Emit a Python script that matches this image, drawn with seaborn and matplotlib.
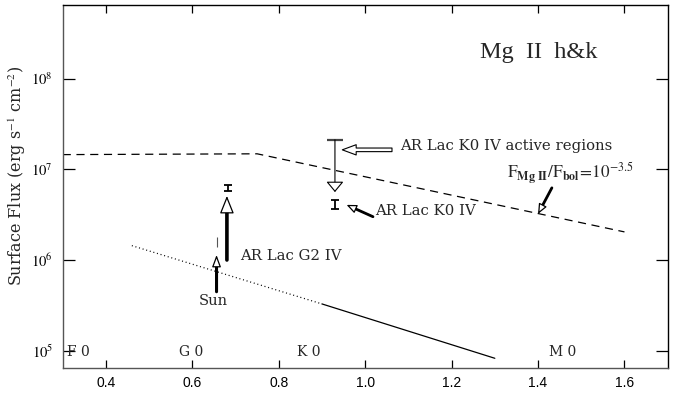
import matplotlib
matplotlib.use("Agg")
import matplotlib.pyplot as plt
import seaborn as sns
import pandas as pd
from matplotlib.ticker import NullLocator

# ---- data -------------------------------------------------------------
# saturation level F_MgII / F_bol = 10^-3.5 (B-V, surface flux)
sat_bv = [0.30, 0.75, 1.60]
sat_flux = [1.45e7, 1.48e7, 2.04e6]

# basal flux level: dotted (bluer) and solid (redder) parts
basal_dot_bv = [0.46, 0.90]
basal_dot_flux = [1.44e6, 3.28e5]
basal_sol_bv = [0.90, 1.30]
basal_sol_flux = [3.28e5, 8.26e4]

# Sun
sun_bv = 0.656
sun_arrow_flux = [4.47e5, 1.135e6]     # tail, tip
sun_range = [1.40e6, 1.81e6]           # low, high

# AR Lac G2 IV
g2_bv = 0.680
g2_arrow_flux = [1.0e6, 5.09e6]
g2_range = [5.78e6, 6.73e6]

# AR Lac K0 IV
k0_bv = 0.930
k0_range = [3.63e6, 4.57e6]
k0_active_flux = [2.11e7, 5.6e6]       # top of bar, limit arrow tip

# spectral types along the colour axis
sptype_names = ["F 0", "G 0", "K 0", "M 0"]
sptype_bv = [0.309, 0.568, 0.842, 1.426]

xtick_vals = [0.4, 0.6, 0.8, 1.0, 1.2, 1.4, 1.6]
ytick_exp = [5, 6, 7, 8]

# ---- style ------------------------------------------------------------
sns.set_style("ticks")
plt.rcParams["font.family"] = ["DejaVu Serif"]
plt.rcParams["mathtext.fontset"] = "stix"

fig = plt.figure(figsize=(6.8, 3.94), dpi=100)
ax = fig.add_axes([0.0922, 0.066, 0.8897, 0.9213])

sat_df = pd.DataFrame({"bv": sat_bv, "flux": sat_flux})
dot_df = pd.DataFrame({"bv": basal_dot_bv, "flux": basal_dot_flux})
sol_df = pd.DataFrame({"bv": basal_sol_bv, "flux": basal_sol_flux})

sns.lineplot(data=sat_df, x="bv", y="flux", ax=ax, color="black", lw=0.9,
             linestyle=(0, (6.5, 4.5)), sort=False)
sns.lineplot(data=dot_df, x="bv", y="flux", ax=ax, color="black", lw=0.9,
             linestyle=(0, (0.8, 2.2)), sort=False)
sns.lineplot(data=sol_df, x="bv", y="flux", ax=ax, color="black", lw=0.9,
             sort=False)

ax.set_yscale("log")
ax.set_xlim(0.3, 1.7)
ax.set_ylim(10 ** 4.81, 10 ** 8.81)


def open_head_arrow(tail, tip, shaft_lw, head_len, head_hw, head_lw=0.9):
    """Solid black shaft topped by a white, outlined arrow head."""
    ax.annotate("", xy=tip, xytext=tail,
                arrowprops=dict(arrowstyle="-", lw=shaft_lw, color="black",
                                shrinkA=0, shrinkB=head_len * 0.85))
    ax.annotate("", xy=tip, xytext=tail,
                arrowprops=dict(arrowstyle=f"-|>,head_length={head_len},head_width={head_hw}",
                                lw=head_lw, ec="black", fc="white",
                                shrinkA=0, shrinkB=0, mutation_scale=1))


# Sun and AR Lac G2 IV arrows
open_head_arrow((sun_bv, sun_arrow_flux[0]), (sun_bv, sun_arrow_flux[1]),
                shaft_lw=2.2, head_len=7.2, head_hw=2.7)
open_head_arrow((g2_bv, g2_arrow_flux[0]), (g2_bv, g2_arrow_flux[1]),
                shaft_lw=2.6, head_len=11.0, head_hw=4.4)

# observed ranges
sun_mid = sum(sun_range) / 2
ax.errorbar([sun_bv], [sun_mid],
            yerr=[[sun_mid - sun_range[0]], [sun_range[1] - sun_mid]],
            fmt="none", ecolor="#555555", elinewidth=0.8, capsize=0)
for bv, rng in [(g2_bv + 0.002, g2_range), (k0_bv, k0_range)]:
    mid = (rng[0] * rng[1]) ** 0.5
    ax.errorbar([bv], [mid], yerr=[[mid - rng[0]], [rng[1] - mid]],
                fmt="none", ecolor="black", elinewidth=1.3, capsize=2.6, capthick=1.3)

# AR Lac K0 IV active-region upper limit
ax.annotate("", xy=(k0_bv, k0_active_flux[1]), xytext=(k0_bv, k0_active_flux[0]),
            arrowprops=dict(arrowstyle="-|>,head_length=6.5,head_width=5.4",
                            lw=0.8, ec="black", fc="white",
                            shrinkA=0, shrinkB=0, mutation_scale=1))
ax.plot([k0_bv], [k0_active_flux[0]], marker="_", ms=11.5, mew=1.6,
        color="#444444")

# hollow pointer to the active-region bar
ax.annotate("", xy=(0.947, 1.637e7), xytext=(1.062, 1.637e7),
            arrowprops=dict(arrowstyle="simple,head_length=10,head_width=7.4,tail_width=2.6",
                            lw=0.8, ec="black", fc="white",
                            shrinkA=0, shrinkB=0, mutation_scale=1))
ax.text(1.081, 1.81e7, "AR Lac K0 IV active regions", fontsize=10.7,
        ha="left", va="center")

# pointer to the K0 IV measurement
open_head_arrow((1.018, 3.0e6), (0.957, 4.05e6),
                shaft_lw=2.0, head_len=6.0, head_hw=2.6)
ax.text(1.023, 3.5e6, "AR Lac K0 IV", fontsize=10.7, ha="left", va="center")

# saturation line label
open_head_arrow((1.432, 6.24e6), (1.400, 3.22e6),
                shaft_lw=2.0, head_len=6.0, head_hw=2.6)
ax.text(1.329, 7.8e6,
        r"$\mathrm{F}_{\mathbf{Mg\ II}}/\mathrm{F}_{\mathbf{bol}}\!=\!10^{-3.5}$",
        fontsize=12.4, ha="left", va="baseline")

ax.text(0.711, 1.11e6, "AR Lac G2 IV", fontsize=10.7, ha="left", va="center")
ax.text(0.648, 3.54e5, "Sun", fontsize=10.5, ha="center", va="center")

for name, bv in zip(sptype_names, sptype_bv):
    ax.text(bv, 9.6e4, name, fontsize=10, ha="left", va="center")

ax.text(0.786, 0.868, "Mg  II  h&k", transform=ax.transAxes,
        fontsize=17.5, family=["Liberation Serif"], ha="center", va="center")

# ---- axes -------------------------------------------------------------
ax.set_xticks(xtick_vals)
ax.set_xticklabels([f"{v:.1f}" for v in xtick_vals],
                   fontfamily="Liberation Sans", fontsize=10)
ax.set_yticks([10.0 ** e for e in ytick_exp])
ax.set_yticklabels([rf"$10^{{{e}}}$" for e in ytick_exp], fontsize=10.5)
ax.yaxis.set_minor_locator(NullLocator())
ax.xaxis.set_minor_locator(NullLocator())
ax.tick_params(axis="x", which="major", direction="in", length=5.5, width=0.9,
               top=True, bottom=True, pad=5.5, colors="black")
ax.tick_params(axis="y", which="major", direction="in", length=8.5, width=0.9,
               left=True, right=True, pad=7, colors="black")

ax.set_xlabel("")
ax.set_ylabel(r"Surface Flux (erg s$^{-1}$ cm$^{-2}$)",
              fontfamily="DejaVu Serif", fontsize=11.5)
ax.yaxis.set_label_coords(-0.0574, 0.529)

for side in ["top", "right"]:
    ax.spines[side].set_visible(True)
    ax.spines[side].set_color("black")
for side in ["left", "bottom"]:
    ax.spines[side].set_color("#555555")
for sp in ax.spines.values():
    sp.set_linewidth(1.0)

fig.savefig("out.png", dpi=100)
